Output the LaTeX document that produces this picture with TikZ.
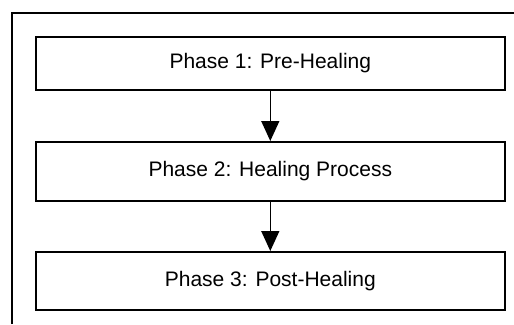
\documentclass[tikz,border=0pt]{standalone}
\usepackage{fontspec}
\setmainfont{Liberation Sans}
\usetikzlibrary{arrows.meta}
\begin{document}
\begin{tikzpicture}[x=1pt,y=-1pt,
  phasebox/.style={draw=black,line width=1.6pt,minimum width=469pt,inner sep=0pt,
    font=\fontsize{21}{25}\selectfont,anchor=north west},
  flow/.style={line width=1.4pt,-{Triangle[width=18pt,length=20pt]}}]
  \useasboundingbox (0,0) rectangle (514,324);
  % outer frame (runs off the right and bottom edges)
  \draw[line width=2.3pt] (12,324) -- (12,13) -- (514,13);
  % phase boxes
  \node[phasebox,minimum height=53pt] (p1) at (35,36) {Phase 1: Pre-Healing};
  \node[phasebox,minimum height=59pt] (p2) at (35,141) {Phase 2: Healing Process};
  \node[phasebox,minimum height=58pt] (p3) at (35,251) {Phase 3: Post-Healing};
  % connectors
  \draw[flow] (p1.south) -- (p2.north);
  \draw[flow] (p2.south) -- (p3.north);
\end{tikzpicture}
\end{document}
